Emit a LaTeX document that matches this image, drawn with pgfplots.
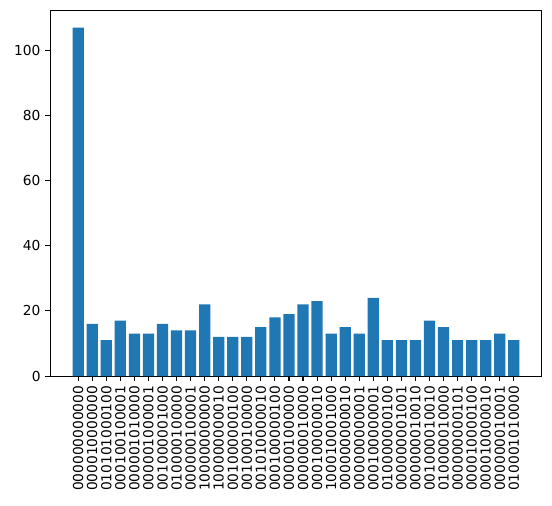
\documentclass[border=0pt]{standalone}
\usepackage{pgfplots}
\pgfplotsset{compat=1.18}
\usepackage{fontspec}
\setmainfont{DejaVu Sans}
\definecolor{mplblue}{HTML}{1F77B4}
\begin{document}
\begin{tikzpicture}
\begin{axis}[
  scale only axis,
  width=357pt, height=265.7pt,
  xmin=-1.99, xmax=32.99,
  ymin=0, ymax=112.35,
  ytick={0,20,40,60,80,100},
  xtick={0,...,31},
  xticklabels={000000000000,000010000000,010101000100,000100100001,000001010000,000001000001,001000001000,010000100000,000000100001,100000000000,100000000010,001000000100,001000100000,001010000010,000100000100,000001000000,000000010000,000100000010,100010001000,000000000010,000000000001,000100000001,010000000100,000000001001,000000010010,001000010010,010000010000,000000000101,000010000100,000010000010,000000010001,010001010000},
  x tick label style={rotate=90, anchor=east, font=\fontsize{10pt}{12pt}\selectfont},
  y tick label style={font=\fontsize{10pt}{12pt}\selectfont},
  /pgf/number format/assume math mode=true,
  tick align=outside,
  tick pos=left,
  major tick length=3.5pt,
  every tick/.style={black, line width=0.8pt},
  axis line style={line width=0.8pt},
  axis on top=false,
]
\addplot[ybar, bar width=0.8, fill=mplblue, draw=none] coordinates {
(0,107) (1,16) (2,11) (3,17) (4,13) (5,13) (6,16) (7,14) (8,14) (9,22)
(10,12) (11,12) (12,12) (13,15) (14,18) (15,19) (16,22) (17,23) (18,13) (19,15)
(20,13) (21,24) (22,11) (23,11) (24,11) (25,17) (26,15) (27,11) (28,11) (29,11)
(30,13) (31,11)};
\end{axis}
\path ([shift={(-7pt,-7pt)}]current bounding box.south west) rectangle ([shift={(7pt,7pt)}]current bounding box.north east);
\end{tikzpicture}
\end{document}
